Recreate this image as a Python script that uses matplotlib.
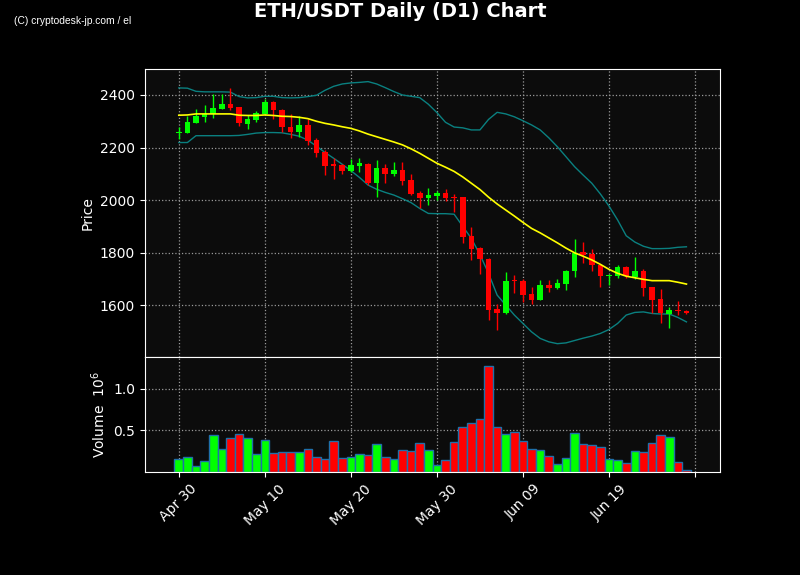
import numpy as np
import pandas as pd
import matplotlib
matplotlib.use("Agg")
import matplotlib.pyplot as plt

# daily candles, 2023-04-30 .. 2023-06-28
dates = pd.date_range("2023-04-30", periods=60, freq="D")

opens = [2254, 2256, 2295, 2317, 2328, 2348, 2367, 2354, 2291, 2306,
         2329, 2373, 2343, 2278, 2259, 2286, 2229, 2184, 2136, 2133,
         2112, 2131, 2138, 2066, 2123, 2099, 2114, 2076, 2027, 2009,
         2016, 2027, 2012, 2011, 1863, 1817, 1775, 1585, 1571, 1694,
         1691, 1642, 1620, 1676, 1666, 1681, 1728, 1802, 1795, 1752,
         1712, 1712, 1745, 1708, 1730, 1667, 1623, 1566, 1582, 1576]
highs = [2279, 2321, 2345, 2362, 2403, 2403, 2425, 2356, 2324, 2340,
         2384, 2378, 2346, 2326, 2321, 2307, 2235, 2190, 2159, 2136,
         2156, 2159, 2141, 2151, 2136, 2144, 2144, 2098, 2034, 2047,
         2035, 2041, 2023, 2013, 1896, 1820, 1779, 1604, 1725, 1716,
         1698, 1667, 1695, 1695, 1699, 1733, 1850, 1841, 1812, 1754,
         1720, 1752, 1747, 1782, 1736, 1670, 1662, 1593, 1614, 1580]
lows = [2231, 2254, 2292, 2298, 2311, 2345, 2343, 2282, 2269, 2298,
        2327, 2307, 2258, 2235, 2241, 2210, 2165, 2094, 2080, 2098,
        2106, 2106, 2057, 2010, 2064, 2093, 2056, 2018, 1968, 1980,
        2000, 1995, 1956, 1837, 1771, 1717, 1543, 1507, 1565, 1645,
        1613, 1606, 1618, 1651, 1661, 1657, 1708, 1759, 1728, 1670,
        1676, 1704, 1705, 1699, 1635, 1571, 1533, 1511, 1563, 1565]
closes = [2258, 2298, 2320, 2326, 2350, 2367, 2352, 2292, 2309, 2330,
          2373, 2342, 2277, 2260, 2286, 2226, 2180, 2131, 2130, 2112,
          2133, 2140, 2064, 2123, 2100, 2114, 2074, 2024, 2009, 2019,
          2028, 2009, 2008, 1859, 1813, 1774, 1582, 1571, 1691, 1690,
          1638, 1620, 1676, 1666, 1684, 1730, 1799, 1790, 1751, 1710,
          1716, 1745, 1709, 1730, 1666, 1620, 1568, 1581, 1576, 1571]

# volume in 10^6
volume = [0.154, 0.178, 0.068, 0.134, 0.447, 0.280, 0.414, 0.459, 0.414, 0.219,
          0.390, 0.232, 0.244, 0.244, 0.244, 0.280, 0.183, 0.159, 0.378, 0.171,
          0.183, 0.219, 0.207, 0.341, 0.183, 0.159, 0.268, 0.256, 0.354, 0.268,
          0.085, 0.146, 0.366, 0.544, 0.585, 0.641, 1.268, 0.544, 0.451, 0.476,
          0.378, 0.280, 0.268, 0.195, 0.098, 0.171, 0.463, 0.341, 0.329, 0.305,
          0.159, 0.146, 0.110, 0.256, 0.244, 0.354, 0.439, 0.415, 0.122, 0.020]

# bollinger bands (20d) as drawn
sma = [2323, 2324, 2328, 2328, 2328, 2328, 2328, 2323, 2322, 2322,
       2324, 2322, 2319, 2318, 2315, 2310, 2300, 2292, 2286, 2279,
       2273, 2263, 2251, 2241, 2231, 2221, 2210, 2195, 2178, 2159,
       2140, 2125, 2109, 2088, 2064, 2040, 2011, 1985, 1962, 1939,
       1915, 1892, 1875, 1856, 1837, 1817, 1799, 1786, 1772, 1755,
       1736, 1721, 1710, 1704, 1698, 1693, 1693, 1693, 1687, 1680]
upper = [2427, 2426, 2414, 2412, 2412, 2412, 2411, 2394, 2389, 2390,
         2395, 2395, 2390, 2389, 2390, 2394, 2399, 2418, 2433, 2442,
         2446, 2448, 2451, 2442, 2428, 2413, 2400, 2395, 2390, 2365,
         2333, 2296, 2278, 2275, 2267, 2267, 2307, 2334, 2328, 2317,
         2302, 2286, 2267, 2237, 2203, 2165, 2127, 2095, 2064, 2023,
         1977, 1924, 1864, 1840, 1824, 1815, 1815, 1816, 1820, 1822]
lower = [2219, 2219, 2245, 2245, 2245, 2245, 2245, 2246, 2250, 2255,
         2257, 2257, 2256, 2250, 2243, 2228, 2205, 2181, 2159, 2136,
         2112, 2086, 2057, 2041, 2029, 2019, 2005, 1990, 1968, 1949,
         1948, 1948, 1946, 1900, 1854, 1792, 1721, 1638, 1600, 1562,
         1530, 1498, 1473, 1460, 1453, 1456, 1465, 1474, 1482, 1492,
         1507, 1530, 1562, 1572, 1574, 1568, 1566, 1566, 1553, 1536]

tick_dates = pd.date_range("2023-04-30", periods=7, freq="10D")
tick_labels = ["Apr 30", "May 10", "May 20", "May 30", "Jun 09", "Jun 19", ""]

UP = "#00ff00"
DOWN = "#ff0000"
BAND = "#0a8080"
FACE = "#0c0c0c"

fig = plt.figure(figsize=(8, 5.75), dpi=100, facecolor="black")
ax = fig.add_axes([0.181, 0.379, 0.719, 0.501], facecolor=FACE)
axv = fig.add_axes([0.181, 0.179, 0.719, 0.200], facecolor=FACE, sharex=ax)

o = np.array(opens); c = np.array(closes)
colors = [UP if cc >= oo else DOWN for oo, cc in zip(o, c)]

ax.vlines(dates, lows, highs, colors=colors, linewidth=1.0, zorder=3)
ax.bar(dates, np.maximum(np.abs(c - o), 2), bottom=np.minimum(o, c),
       width=0.65, color=colors, zorder=4)
ax.plot(dates, sma, color="yellow", linewidth=1.2, zorder=5)
ax.plot(dates, upper, color=BAND, linewidth=1.0, zorder=2)
ax.plot(dates, lower, color=BAND, linewidth=1.0, zorder=2)

axv.bar(dates, volume, width=1.0, color=colors, edgecolor="#1f70aa", linewidth=1.0)

for a in (ax, axv):
    a.grid(True, color="#9a9a9a", linestyle=":", linewidth=0.9)
    a.set_axisbelow(True)
    for s in a.spines.values():
        s.set_color("white")
    a.tick_params(colors="white", labelsize=10)

ax.set_ylim(1402, 2499)
ax.set_yticks([1600, 1800, 2000, 2200, 2400])
ax.set_ylabel("Price", color="white", fontsize=10)
ax.tick_params(axis="x", labelbottom=False)

axv.set_ylim(0, 1.38)
axv.set_yticks([0.5, 1.0])
axv.set_ylabel("Volume  $10^{6}$", color="white", fontsize=10)
axv.set_xticks(tick_dates)
axv.set_xticklabels(tick_labels, rotation=45)
axv.set_xlim(dates[0] - pd.Timedelta(days=3.95), dates[0] + pd.Timedelta(days=62.9))

fig.suptitle("ETH/USDT Daily (D1) Chart", color="white", fontsize=14,
             fontweight="bold", y=0.997, va="top")
fig.text(0.018, 0.963, "(C) cryptodesk-jp.com / el", color="white", fontsize=7.4,
         family=["Liberation Sans Narrow", "Liberation Sans", "DejaVu Sans"], va="center")

fig.savefig("out.png", facecolor="black")
